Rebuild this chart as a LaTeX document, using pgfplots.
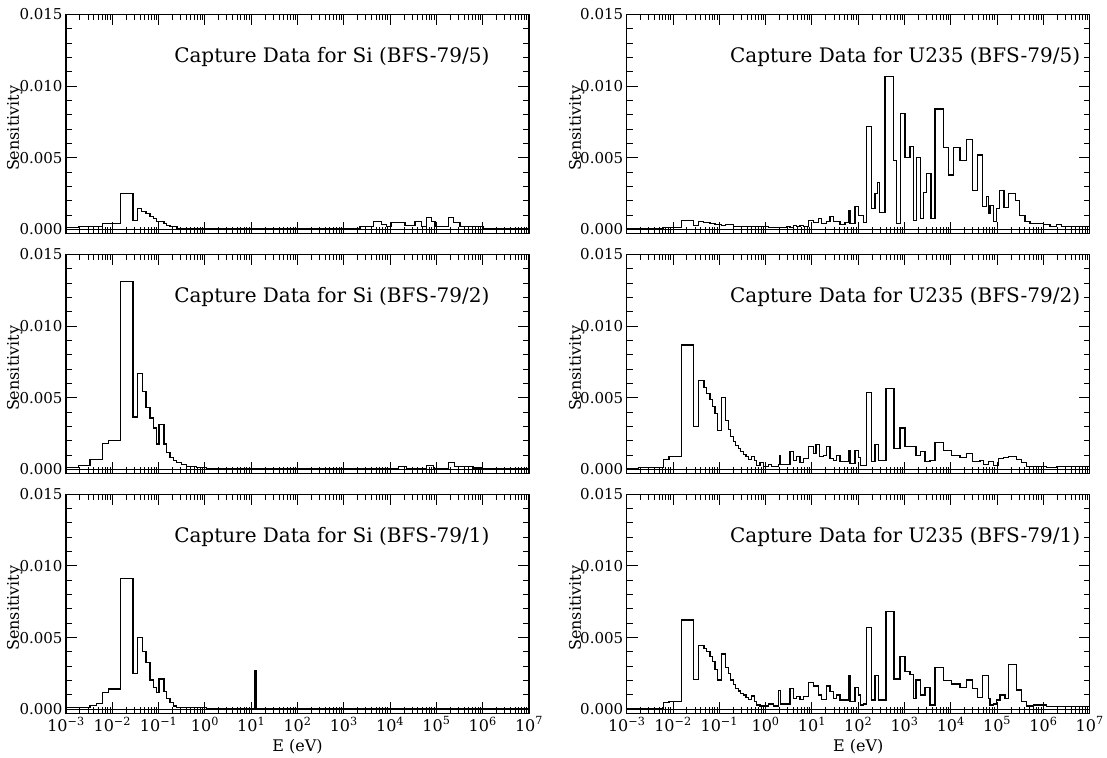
\documentclass[border=0pt]{standalone}
\usepackage{pgfplots}
\pgfplotsset{compat=1.18}
\usepackage{fontspec}
\setmainfont{DejaVu Serif}
\begin{document}
\begin{tikzpicture}
\useasboundingbox (0,0) rectangle (1107pt,757pt);
% ---------- top left
\begin{axis}[at={(66pt,523.5pt)}, anchor=south west,
    xmode=log, xmin=1e-3, xmax=1e7, ymin=-0.00028, ymax=0.015,
    scale only axis, width=463pt, height=219pt,
    axis line style={line width=1.2pt},
    xtick={1e-3,1e-2,1e-1,1,10,100,1000,1e4,1e5,1e6,1e7},
    minor xtick={2e-3,3e-3,4e-3,5e-3,6e-3,7e-3,8e-3,9e-3,2e-2,3e-2,4e-2,5e-2,6e-2,7e-2,8e-2,9e-2,0.2,0.3,0.4,0.5,0.6,0.7,0.8,0.9,2,3,4,5,6,7,8,9,20,30,40,50,60,70,80,90,200,300,400,500,600,700,800,900,2000,3000,4000,5000,6000,7000,8000,9000,2e4,3e4,4e4,5e4,6e4,7e4,8e4,9e4,2e5,3e5,4e5,5e5,6e5,7e5,8e5,9e5,2e6,3e6,4e6,5e6,6e6,7e6,8e6,9e6},
    xticklabels={},
    scaled y ticks=false,
    ytick={0,0.005,0.01,0.015}, yticklabels={0.000,0.005,0.010,0.015},
    minor ytick={0.001,0.002,0.003,0.004,0.006,0.007,0.008,0.009,0.011,0.012,0.013,0.014},
    tick align=inside, major tick length=11pt, minor tick length=6pt,
    tick style={line width=1pt, black},
    yticklabel style={font=\fontsize{15}{15}\selectfont},
    ylabel={Sensitivity},
    ylabel style={font=\fontsize{16}{16}\selectfont, at={(axis description cs:-0.111,0.48)}, anchor=center},
    clip=false]
\addplot[black, line width=1pt, mark=none] coordinates {(1e-3,0) (1e7,0)};
\addplot[const plot, black, line width=1.2pt, mark=none] coordinates {(1e-3,0.00012) (1.85e-3,0.00019) (3.3e-3,0.00023) (6.2e-3,0.0004) (1.5e-2,0.00249) (2.8e-2,0.00065) (3.5e-2,0.00147) (4.2e-2,0.00128) (5.35e-2,0.0011) (6.5e-2,0.00093) (7.7e-2,0.00077) (9.1e-2,0.00053) (0.102,0.00058) (0.131,0.0004) (0.149,0.00028) (0.176,0.00019) (0.25,0.00009) (0.4,0.00005) (2240,0.00019) (4350,0.00053) (6580,0.00035) (8430,0.00023) (10800,0.00047) (15070,0.00051) (20990,0.00028) (34510,0.00058) (48080,0.00019) (61660,0.00081) (79070,0.00058) (93330,0.00019) (1.81e5,0.00081) (2.32e5,0.00047) (3.24e5,0.00019) (1.03e6,0.00005) (1e7,0.00005)};
\node[anchor=east, font=\fontsize{20}{20}\selectfont] at (rel axis cs:0.922,0.805) {Capture Data for Si (BFS-79/5)};
\end{axis}
% ---------- middle left
\begin{axis}[at={(66pt,283.5pt)}, anchor=south west,
    xmode=log, xmin=1e-3, xmax=1e7, ymin=-0.00028, ymax=0.015,
    scale only axis, width=463pt, height=219pt,
    axis line style={line width=1.2pt},
    xtick={1e-3,1e-2,1e-1,1,10,100,1000,1e4,1e5,1e6,1e7},
    minor xtick={2e-3,3e-3,4e-3,5e-3,6e-3,7e-3,8e-3,9e-3,2e-2,3e-2,4e-2,5e-2,6e-2,7e-2,8e-2,9e-2,0.2,0.3,0.4,0.5,0.6,0.7,0.8,0.9,2,3,4,5,6,7,8,9,20,30,40,50,60,70,80,90,200,300,400,500,600,700,800,900,2000,3000,4000,5000,6000,7000,8000,9000,2e4,3e4,4e4,5e4,6e4,7e4,8e4,9e4,2e5,3e5,4e5,5e5,6e5,7e5,8e5,9e5,2e6,3e6,4e6,5e6,6e6,7e6,8e6,9e6},
    xticklabels={},
    scaled y ticks=false,
    ytick={0,0.005,0.01,0.015}, yticklabels={0.000,0.005,0.010,0.015},
    minor ytick={0.001,0.002,0.003,0.004,0.006,0.007,0.008,0.009,0.011,0.012,0.013,0.014},
    tick align=inside, major tick length=11pt, minor tick length=6pt,
    tick style={line width=1pt, black},
    yticklabel style={font=\fontsize{15}{15}\selectfont},
    ylabel={Sensitivity},
    ylabel style={font=\fontsize{16}{16}\selectfont, at={(axis description cs:-0.111,0.48)}, anchor=center},
    clip=false]
\addplot[black, line width=1pt, mark=none] coordinates {(1e-3,0) (1e7,0)};
\addplot[const plot, black, line width=1.2pt, mark=none] coordinates {(1e-3,0.00012) (1.85e-3,0.00028) (3.3e-3,0.00069) (6.2e-3,0.0018) (8.2e-3,0.00204) (1.5e-2,0.01313) (2.8e-2,0.00366) (3.5e-2,0.00667) (4.45e-2,0.00546) (5.35e-2,0.00435) (6.5e-2,0.00359) (7.7e-2,0.00289) (9.1e-2,0.00178) (0.102,0.00313) (0.131,0.00178) (0.149,0.00116) (0.176,0.00081) (0.208,0.00065) (0.245,0.00046) (0.315,0.00035) (0.4,0.00023) (0.66,0.00012) (1.09,0.00005) (1.5e4,0.0002) (2.3e4,0.00005) (6.2e4,0.0003) (8.5e4,0.00005) (1.81e5,0.00046) (2.5e5,0.0002) (6.3e5,0.0001) (1e6,0.00005) (1e7,0.00005)};
\node[anchor=east, font=\fontsize{20}{20}\selectfont] at (rel axis cs:0.922,0.805) {Capture Data for Si (BFS-79/2)};
\end{axis}
% ---------- bottom left
\begin{axis}[at={(66pt,43.7pt)}, anchor=south west,
    xmode=log, xmin=1e-3, xmax=1e7, ymin=-0.00028, ymax=0.015,
    scale only axis, width=463pt, height=219pt,
    axis line style={line width=1.2pt},
    xtick={1e-3,1e-2,1e-1,1,10,100,1000,1e4,1e5,1e6,1e7},
    minor xtick={2e-3,3e-3,4e-3,5e-3,6e-3,7e-3,8e-3,9e-3,2e-2,3e-2,4e-2,5e-2,6e-2,7e-2,8e-2,9e-2,0.2,0.3,0.4,0.5,0.6,0.7,0.8,0.9,2,3,4,5,6,7,8,9,20,30,40,50,60,70,80,90,200,300,400,500,600,700,800,900,2000,3000,4000,5000,6000,7000,8000,9000,2e4,3e4,4e4,5e4,6e4,7e4,8e4,9e4,2e5,3e5,4e5,5e5,6e5,7e5,8e5,9e5,2e6,3e6,4e6,5e6,6e6,7e6,8e6,9e6},
    xticklabels={10\textsuperscript{−3},10\textsuperscript{−2},10\textsuperscript{−1},10\textsuperscript{0},10\textsuperscript{1},10\textsuperscript{2},10\textsuperscript{3},10\textsuperscript{4},10\textsuperscript{5},10\textsuperscript{6},10\textsuperscript{7}},
    xticklabel style={font=\fontsize{16}{16}\selectfont},
    xlabel={E (eV)},
    xlabel style={font=\fontsize{16}{16}\selectfont, at={(axis description cs:0.5,0)}, anchor=center, yshift=-33pt},
    scaled y ticks=false,
    ytick={0,0.005,0.01,0.015}, yticklabels={0.000,0.005,0.010,0.015},
    minor ytick={0.001,0.002,0.003,0.004,0.006,0.007,0.008,0.009,0.011,0.012,0.013,0.014},
    tick align=inside, major tick length=11pt, minor tick length=6pt,
    tick style={line width=1pt, black},
    yticklabel style={font=\fontsize{15}{15}\selectfont},
    ylabel={Sensitivity},
    ylabel style={font=\fontsize{16}{16}\selectfont, at={(axis description cs:-0.111,0.48)}, anchor=center},
    clip=false]
\addplot[black, line width=1pt, mark=none] coordinates {(1e-3,0) (1e7,0)};
\addplot[const plot, black, line width=1.2pt, mark=none] coordinates {(1e-3,0.0001) (3.3e-3,0.00028) (4.6e-3,0.00042) (6.2e-3,0.00119) (8.2e-3,0.00142) (1.5e-2,0.0091) (2.8e-2,0.00251) (3.5e-2,0.005) (4.45e-2,0.00402) (5.35e-2,0.00326) (6.5e-2,0.00205) (7.7e-2,0.00154) (9.1e-2,0.00116) (0.102,0.00212) (0.131,0.00123) (0.149,0.00077) (0.176,0.00047) (0.208,0.00023) (0.245,0.00014) (0.4,0.0001) (1.09,0.00005) (12.1,0.0027) (12.7,0.00008) (1e7,0.00008)};
\node[anchor=east, font=\fontsize{20}{20}\selectfont] at (rel axis cs:0.922,0.805) {Capture Data for Si (BFS-79/1)};
\end{axis}
% ---------- top right
\begin{axis}[at={(626.7pt,523.5pt)}, anchor=south west,
    xmode=log, xmin=1e-3, xmax=1e7, ymin=-0.00028, ymax=0.015,
    scale only axis, width=463pt, height=219pt,
    axis line style={line width=1.2pt},
    xtick={1e-3,1e-2,1e-1,1,10,100,1000,1e4,1e5,1e6,1e7},
    minor xtick={2e-3,3e-3,4e-3,5e-3,6e-3,7e-3,8e-3,9e-3,2e-2,3e-2,4e-2,5e-2,6e-2,7e-2,8e-2,9e-2,0.2,0.3,0.4,0.5,0.6,0.7,0.8,0.9,2,3,4,5,6,7,8,9,20,30,40,50,60,70,80,90,200,300,400,500,600,700,800,900,2000,3000,4000,5000,6000,7000,8000,9000,2e4,3e4,4e4,5e4,6e4,7e4,8e4,9e4,2e5,3e5,4e5,5e5,6e5,7e5,8e5,9e5,2e6,3e6,4e6,5e6,6e6,7e6,8e6,9e6},
    xticklabels={},
    scaled y ticks=false,
    ytick={0,0.005,0.01,0.015}, yticklabels={0.000,0.005,0.010,0.015},
    minor ytick={0.001,0.002,0.003,0.004,0.006,0.007,0.008,0.009,0.011,0.012,0.013,0.014},
    tick align=inside, major tick length=11pt, minor tick length=6pt,
    tick style={line width=1pt, black},
    yticklabel style={font=\fontsize{15}{15}\selectfont},
    ylabel={Sensitivity},
    ylabel style={font=\fontsize{16}{16}\selectfont, at={(axis description cs:-0.108,0.48)}, anchor=center},
    clip=false]
\addplot[black, line width=1pt, mark=none] coordinates {(1e-3,0) (1e7,0)};
\addplot[const plot, black, line width=1.2pt, mark=none] coordinates {(1e-3,0.00007) (6.2e-3,0.00012) (1.5e-2,0.00065) (2.8e-2,0.0003) (3.5e-2,0.00053) (4.6e-2,0.00049) (6.3e-2,0.00042) (8.1e-2,0.00037) (0.113,0.0003) (0.135,0.00035) (0.2,0.00023) (0.5,0.00019) (1.15,0.00014) (2.86,0.0002) (3.37,0.00014) (3.98,0.00026) (4.7,0.00019) (5.55,0.00028) (6.55,0.00019) (8.4,0.0006) (10.8,0.00047) (13.8,0.00077) (16.3,0.00042) (20.9,0.00053) (24.7,0.00093) (29.1,0.00053) (40.6,0.00037) (52,0.00047) (61.4,0.0013) (66.7,0.00042) (85.5,0.0016) (101,0.001) (129,0.00047) (153,0.0072) (196,0.00147) (231,0.0025) (259,0.0033) (286,0.0012) (380,0.0107) (575,0.0048) (679,0.00042) (828,0.0081) (1027,0.005) (1318,0.0058) (1556,0.00065) (1833,0.005) (2239,0.00077) (2555,0.0026) (3013,0.0039) (3738,0.00077) (4563,0.0084) (6905,0.0057) (8851,0.0038) (11350,0.0057) (15820,0.0048) (22030,0.0063) (29720,0.0027) (37500,0.0052) (48870,0.0016) (59570,0.0023) (64720,0.0011) (70310,0.0017) (82990,0.00053) (97950,0.00147) (1.12e5,0.0027) (1.41e5,0.00154) (1.75e5,0.0025) (2.52e5,0.002) (3.03e5,0.001) (4.01e5,0.00053) (5.14e5,0.00042) (9.98e5,0.00033) (1.39e6,0.00019) (1.94e6,0.00033) (2.48e6,0.00019) (1e7,0.00019)};
\node[anchor=east, font=\fontsize{20}{20}\selectfont] at (rel axis cs:0.987,0.805) {Capture Data for U235 (BFS-79/5)};
\end{axis}
% ---------- middle right
\begin{axis}[at={(626.7pt,283.5pt)}, anchor=south west,
    xmode=log, xmin=1e-3, xmax=1e7, ymin=-0.00028, ymax=0.015,
    scale only axis, width=463pt, height=219pt,
    axis line style={line width=1.2pt},
    xtick={1e-3,1e-2,1e-1,1,10,100,1000,1e4,1e5,1e6,1e7},
    minor xtick={2e-3,3e-3,4e-3,5e-3,6e-3,7e-3,8e-3,9e-3,2e-2,3e-2,4e-2,5e-2,6e-2,7e-2,8e-2,9e-2,0.2,0.3,0.4,0.5,0.6,0.7,0.8,0.9,2,3,4,5,6,7,8,9,20,30,40,50,60,70,80,90,200,300,400,500,600,700,800,900,2000,3000,4000,5000,6000,7000,8000,9000,2e4,3e4,4e4,5e4,6e4,7e4,8e4,9e4,2e5,3e5,4e5,5e5,6e5,7e5,8e5,9e5,2e6,3e6,4e6,5e6,6e6,7e6,8e6,9e6},
    xticklabels={},
    scaled y ticks=false,
    ytick={0,0.005,0.01,0.015}, yticklabels={0.000,0.005,0.010,0.015},
    minor ytick={0.001,0.002,0.003,0.004,0.006,0.007,0.008,0.009,0.011,0.012,0.013,0.014},
    tick align=inside, major tick length=11pt, minor tick length=6pt,
    tick style={line width=1pt, black},
    yticklabel style={font=\fontsize{15}{15}\selectfont},
    ylabel={Sensitivity},
    ylabel style={font=\fontsize{16}{16}\selectfont, at={(axis description cs:-0.108,0.48)}, anchor=center},
    clip=false]
\addplot[black, line width=1pt, mark=none] coordinates {(1e-3,0) (1e7,0)};
\addplot[const plot, black, line width=1.2pt, mark=none] coordinates {(1e-3,0.00005) (1.79e-3,0.00012) (6.2e-3,0.0007) (8.2e-3,0.00088) (1.5e-2,0.00868) (2.8e-2,0.003) (3.5e-2,0.00623) (4.68e-2,0.0057) (5.35e-2,0.0053) (6.31e-2,0.0049) (7.2e-2,0.0044) (8.1e-2,0.0039) (9.2e-2,0.00274) (0.113,0.005) (0.135,0.00344) (0.157,0.0028) (0.176,0.00228) (0.201,0.00193) (0.226,0.0017) (0.258,0.00147) (0.290,0.00123) (0.331,0.00107) (0.378,0.00088) (0.431,0.00072) (0.501,0.00093) (0.572,0.00065) (0.643,0.0003) (0.759,0.00047) (0.895,0.00019) (1.15,0.00037) (1.36,0.00023) (1.89,0.00037) (2.05,0.001) (2.12,0.00037) (3.37,0.00123) (3.98,0.00065) (4.70,0.00088) (5.55,0.00047) (6.55,0.00077) (8.4,0.00163) (10.8,0.0011) (12.3,0.00177) (14.5,0.00088) (17.7,0.001) (20.9,0.00163) (24.7,0.00077) (29.1,0.00065) (34.4,0.001) (40.6,0.00053) (61.4,0.00135) (66.7,0.00042) (85.5,0.00135) (101,0.00084) (110,0.0003) (153,0.00535) (196,0.00053) (231,0.00177) (273,0.00065) (399,0.00565) (594,0.00147) (802,0.0029) (1027,0.00163) (1775,0.001) (2239,0.00123) (2774,0.00053) (3556,0.00065) (4563,0.00188) (6905,0.00135) (10450,0.001) (15820,0.00084) (22030,0.0011) (29720,0.00053) (42850,0.00065) (50480,0.00037) (64720,0.00053) (82990,0.0003) (1.064e5,0.00077) (1.365e5,0.00084) (1.750e5,0.00088) (2.649e5,0.00072) (3.397e5,0.00047) (4.355e5,0.00023) (6.068e5,0.00019) (1.178e6,0.00014) (1.937e6,0.00019) (1e7,0.00019)};
\node[anchor=east, font=\fontsize{20}{20}\selectfont] at (rel axis cs:0.987,0.805) {Capture Data for U235 (BFS-79/2)};
\end{axis}
% ---------- bottom right
\begin{axis}[at={(626.7pt,43.7pt)}, anchor=south west,
    xmode=log, xmin=1e-3, xmax=1e7, ymin=-0.00028, ymax=0.015,
    scale only axis, width=463pt, height=219pt,
    axis line style={line width=1.2pt},
    xtick={1e-3,1e-2,1e-1,1,10,100,1000,1e4,1e5,1e6,1e7},
    minor xtick={2e-3,3e-3,4e-3,5e-3,6e-3,7e-3,8e-3,9e-3,2e-2,3e-2,4e-2,5e-2,6e-2,7e-2,8e-2,9e-2,0.2,0.3,0.4,0.5,0.6,0.7,0.8,0.9,2,3,4,5,6,7,8,9,20,30,40,50,60,70,80,90,200,300,400,500,600,700,800,900,2000,3000,4000,5000,6000,7000,8000,9000,2e4,3e4,4e4,5e4,6e4,7e4,8e4,9e4,2e5,3e5,4e5,5e5,6e5,7e5,8e5,9e5,2e6,3e6,4e6,5e6,6e6,7e6,8e6,9e6},
    xticklabels={10\textsuperscript{−3},10\textsuperscript{−2},10\textsuperscript{−1},10\textsuperscript{0},10\textsuperscript{1},10\textsuperscript{2},10\textsuperscript{3},10\textsuperscript{4},10\textsuperscript{5},10\textsuperscript{6},10\textsuperscript{7}},
    xticklabel style={font=\fontsize{16}{16}\selectfont},
    xlabel={E (eV)},
    xlabel style={font=\fontsize{16}{16}\selectfont, at={(axis description cs:0.5,0)}, anchor=center, yshift=-33pt},
    scaled y ticks=false,
    ytick={0,0.005,0.01,0.015}, yticklabels={0.000,0.005,0.010,0.015},
    minor ytick={0.001,0.002,0.003,0.004,0.006,0.007,0.008,0.009,0.011,0.012,0.013,0.014},
    tick align=inside, major tick length=11pt, minor tick length=6pt,
    tick style={line width=1pt, black},
    yticklabel style={font=\fontsize{15}{15}\selectfont},
    ylabel={Sensitivity},
    ylabel style={font=\fontsize{16}{16}\selectfont, at={(axis description cs:-0.108,0.48)}, anchor=center},
    clip=false]
\addplot[black, line width=1pt, mark=none] coordinates {(1e-3,0) (1e7,0)};
\addplot[const plot, black, line width=1.2pt, mark=none] coordinates {(1e-3,0.00005) (1.79e-3,0.00007) (6.2e-3,0.00049) (8.2e-3,0.00053) (1.5e-2,0.00623) (2.8e-2,0.0021) (3.5e-2,0.00444) (4.68e-2,0.00426) (5.35e-2,0.00402) (6.31e-2,0.00368) (7.2e-2,0.00333) (8.1e-2,0.00279) (9.2e-2,0.00205) (0.113,0.00386) (0.135,0.00293) (0.157,0.00247) (0.176,0.00205) (0.201,0.00174) (0.226,0.00147) (0.258,0.00128) (0.290,0.00112) (0.331,0.001) (0.378,0.00084) (0.431,0.0007) (0.501,0.00093) (0.572,0.00053) (0.643,0.0003) (0.759,0.00023) (1.15,0.00037) (1.47,0.00023) (1.89,0.0013) (2.12,0.00037) (3.37,0.00147) (3.98,0.00077) (4.70,0.00088) (5.55,0.0007) (6.55,0.00088) (8.4,0.00188) (10.8,0.00163) (13.8,0.001) (16.3,0.0007) (20.9,0.00163) (24.7,0.00123) (29.1,0.00077) (34.4,0.001) (40.6,0.00065) (61.4,0.00233) (66.7,0.00053) (85.5,0.00154) (101,0.001) (110,0.0003) (129,0.00037) (153,0.0057) (196,0.00065) (231,0.00233) (273,0.00065) (399,0.0068) (594,0.00212) (802,0.00368) (1027,0.00263) (1318,0.00244) (1556,0.00077) (1775,0.00205) (2239,0.001) (2774,0.00154) (3556,0.0003) (4563,0.00291) (6905,0.002) (10450,0.00177) (15820,0.00154) (22030,0.00205) (29720,0.00147) (37500,0.00084) (48870,0.00233) (64720,0.00077) (70310,0.0003) (82990,0.00037) (97950,0.00065) (1.156e5,0.001) (1.483e5,0.00077) (1.750e5,0.0031) (2.649e5,0.00135) (3.397e5,0.00053) (4.355e5,0.00023) (6.068e5,0.0003) (1.178e6,0.00019) (1e7,0.00019)};
\node[anchor=east, font=\fontsize{20}{20}\selectfont] at (rel axis cs:0.987,0.805) {Capture Data for U235 (BFS-79/1)};
\end{axis}
\end{tikzpicture}
\end{document}
